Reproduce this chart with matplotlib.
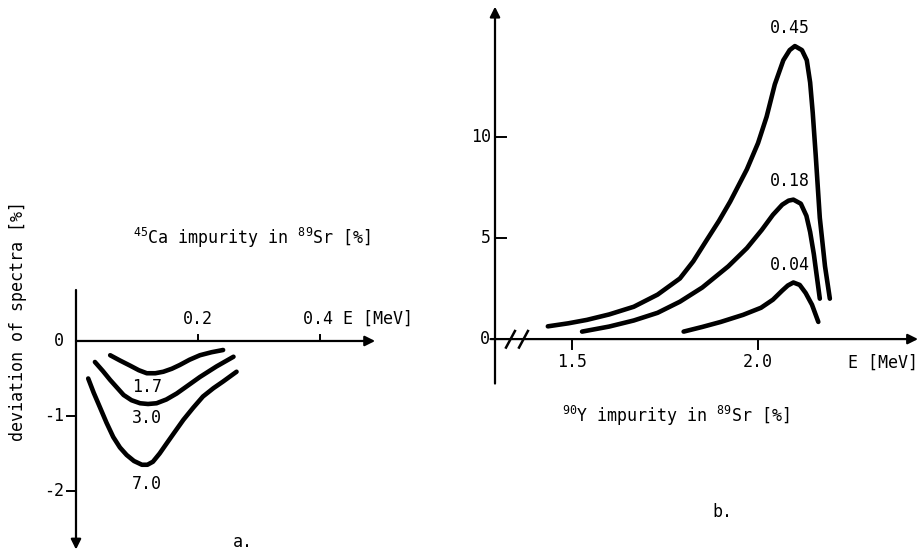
import matplotlib
matplotlib.use("Agg")
import matplotlib.pyplot as plt

plt.rcParams['font.family'] = ['DejaVu Sans Mono']
plt.rcParams['mathtext.fontset'] = 'custom'
plt.rcParams['mathtext.rm'] = 'DejaVu Sans Mono'
plt.rcParams['mathtext.it'] = 'DejaVu Sans Mono'

# panel a: 45Ca impurity in 89Sr, deviation of spectra [%] vs E [MeV]
ca_labels = ["1.7", "3.0", "7.0"]
ca_e = [
    [0.056, 0.072, 0.089, 0.103, 0.116, 0.13, 0.143, 0.157, 0.170, 0.186, 0.203, 0.222, 0.241],
    [0.031, 0.044, 0.056, 0.067, 0.078, 0.091, 0.105, 0.118, 0.132, 0.148, 0.165, 0.184, 0.203, 0.23, 0.258],
    [0.020, 0.029, 0.039, 0.05, 0.061, 0.072, 0.083, 0.095, 0.108, 0.117, 0.126, 0.137, 0.149, 0.162, 0.176, 0.192, 0.208, 0.225, 0.241, 0.263],
]
ca_dev = [
    [-0.19, -0.26, -0.33, -0.39, -0.43, -0.43, -0.41, -0.37, -0.32, -0.25, -0.19, -0.15, -0.12],
    [-0.28, -0.40, -0.52, -0.62, -0.72, -0.79, -0.83, -0.84, -0.83, -0.78, -0.70, -0.59, -0.48, -0.34, -0.21],
    [-0.50, -0.69, -0.88, -1.09, -1.28, -1.42, -1.52, -1.60, -1.65, -1.65, -1.61, -1.50, -1.36, -1.21, -1.05, -0.89, -0.74, -0.63, -0.54, -0.41],
]
ca_label_pos = [(0.116, -0.61), (0.116, -1.03), (0.116, -1.9)]

# panel b: 90Y impurity in 89Sr
y_labels = ["0.45", "0.18", "0.04"]
y_e = [
    [1.435, 1.49, 1.54, 1.6, 1.666, 1.73, 1.79, 1.826, 1.862, 1.895, 1.925, 1.97, 2.0, 2.023,
     2.045, 2.068, 2.085, 2.099, 2.118, 2.131, 2.14, 2.147, 2.155, 2.166, 2.18, 2.193],
    [1.527, 1.6, 1.666, 1.73, 1.79, 1.85, 1.92, 1.97, 2.01, 2.04, 2.065, 2.082, 2.095, 2.115,
     2.13, 2.14, 2.15, 2.158, 2.166],
    [1.80, 1.85, 1.9, 1.96, 2.008, 2.04, 2.065, 2.08, 2.095, 2.112, 2.128, 2.145, 2.162],
]
y_dev = [
    [0.63, 0.78, 0.95, 1.22, 1.6, 2.2, 3.0, 3.85, 4.9, 5.85, 6.8, 8.4, 9.7, 11.0,
     12.6, 13.8, 14.3, 14.5, 14.3, 13.8, 12.7, 11.2, 9.1, 6.0, 3.6, 2.0],
    [0.37, 0.62, 0.92, 1.3, 1.85, 2.55, 3.6, 4.5, 5.4, 6.15, 6.65, 6.85, 6.9, 6.7,
     6.1, 5.3, 4.2, 3.1, 2.0],
    [0.37, 0.6, 0.85, 1.2, 1.55, 1.95, 2.4, 2.65, 2.8, 2.68, 2.28, 1.7, 0.85],
]
y_label_pos = [(2.085, 15.4), (2.085, 7.8), (2.085, 3.65)]

fig = plt.figure(figsize=(9.21, 5.52), dpi=100)
fs = 12
lw_curve = 3.3
arr = dict(arrowstyle='-|>', lw=1.6, color='black', mutation_scale=15, shrinkA=0, shrinkB=0)
curve_kw = dict(color='black', lw=lw_curve, solid_capstyle='round', solid_joinstyle='round')

# ---- panel a ----
ax = fig.add_axes([60 / 921, 0, 320 / 921, 272 / 552])
ax.set_xlim(-0.0262, 0.498)
ax.set_ylim(-2.813, 0.813)
ax.axis("off")
ax.annotate('', xy=(0, -2.78), xytext=(0, 0.68), arrowprops=arr)
ax.annotate('', xy=(0.49, 0), xytext=(0, 0), arrowprops=arr)
for t in [-1, -2]:
    ax.plot([-0.015, 0], [t, t], color='black', lw=1.4)
    ax.text(-0.02, t, str(t), ha='right', va='center', fontsize=fs)
ax.text(-0.02, 0, "0", ha='right', va='center', fontsize=fs)
for t in [0.2, 0.4]:
    ax.plot([t, t], [0, 0.08], color='black', lw=1.4)
ax.text(0.2, 0.17, "0.2", ha='center', va='bottom', fontsize=fs)
ax.text(0.372, 0.17, "0.4 E [MeV]", ha='left', va='bottom', fontsize=fs)
for e, d in zip(ca_e, ca_dev):
    ax.plot(e, d, **curve_kw)
for lab, (px, py) in zip(ca_labels, ca_label_pos):
    ax.text(px, py, lab, ha='center', va='center', fontsize=fs)
ax.text(0.274, -2.68, "a.", ha='center', va='center', fontsize=fs)

fig.text(252 / 921, 1 - 238 / 552, r"$^{45}$Ca impurity in $^{89}$Sr [%]",
         ha='center', va='center', fontsize=fs)
fig.text(18 / 921, 1 - 321 / 552, "deviation of spectra [%]", rotation=90,
         ha='center', va='center', fontsize=fs)

# ---- panel b ----
bx = fig.add_axes([470 / 921, 1 - 390 / 552, 451 / 921, 390 / 552])
bx.set_xlim(1.2258, 2.438)
bx.set_ylim(-2.52, 16.78)
bx.axis("off")
x0 = 1.293
bx.annotate('', xy=(x0, 16.45), xytext=(x0, -2.2), arrowprops=arr)
bx.annotate('', xy=(2.43, 0), xytext=(x0 - 0.012, 0), arrowprops=arr)
for t in [5, 10]:
    bx.plot([x0, x0 + 0.03], [t, t], color='black', lw=1.4)
    bx.text(x0 - 0.01, t, str(t), ha='right', va='center', fontsize=fs)
bx.text(x0 - 0.015, 0, "0", ha='right', va='center', fontsize=fs)
for t in [1.5, 2.0]:
    bx.plot([t, t], [0, -0.5], color='black', lw=1.4)
    bx.text(t, -1.15, "%.1f" % t, ha='center', va='center', fontsize=fs)
bx.text(2.43, -1.15, "E [MeV]", ha='right', va='center', fontsize=fs)
for xa in [1.3226, 1.3575]:
    bx.plot([xa, xa + 0.024], [-0.42, 0.4], color='black', lw=1.8)
for e, d in zip(y_e, y_dev):
    bx.plot(e, d, **curve_kw)
for lab, (px, py) in zip(y_labels, y_label_pos):
    bx.text(px, py, lab, ha='center', va='center', fontsize=fs)

fig.text(676 / 921, 1 - 416 / 552, r"$^{90}$Y impurity in $^{89}$Sr [%]",
         ha='center', va='center', fontsize=fs)
fig.text(722 / 921, 1 - 512 / 552, "b.", ha='center', va='center', fontsize=fs)

fig.savefig("out.png", dpi=100)
